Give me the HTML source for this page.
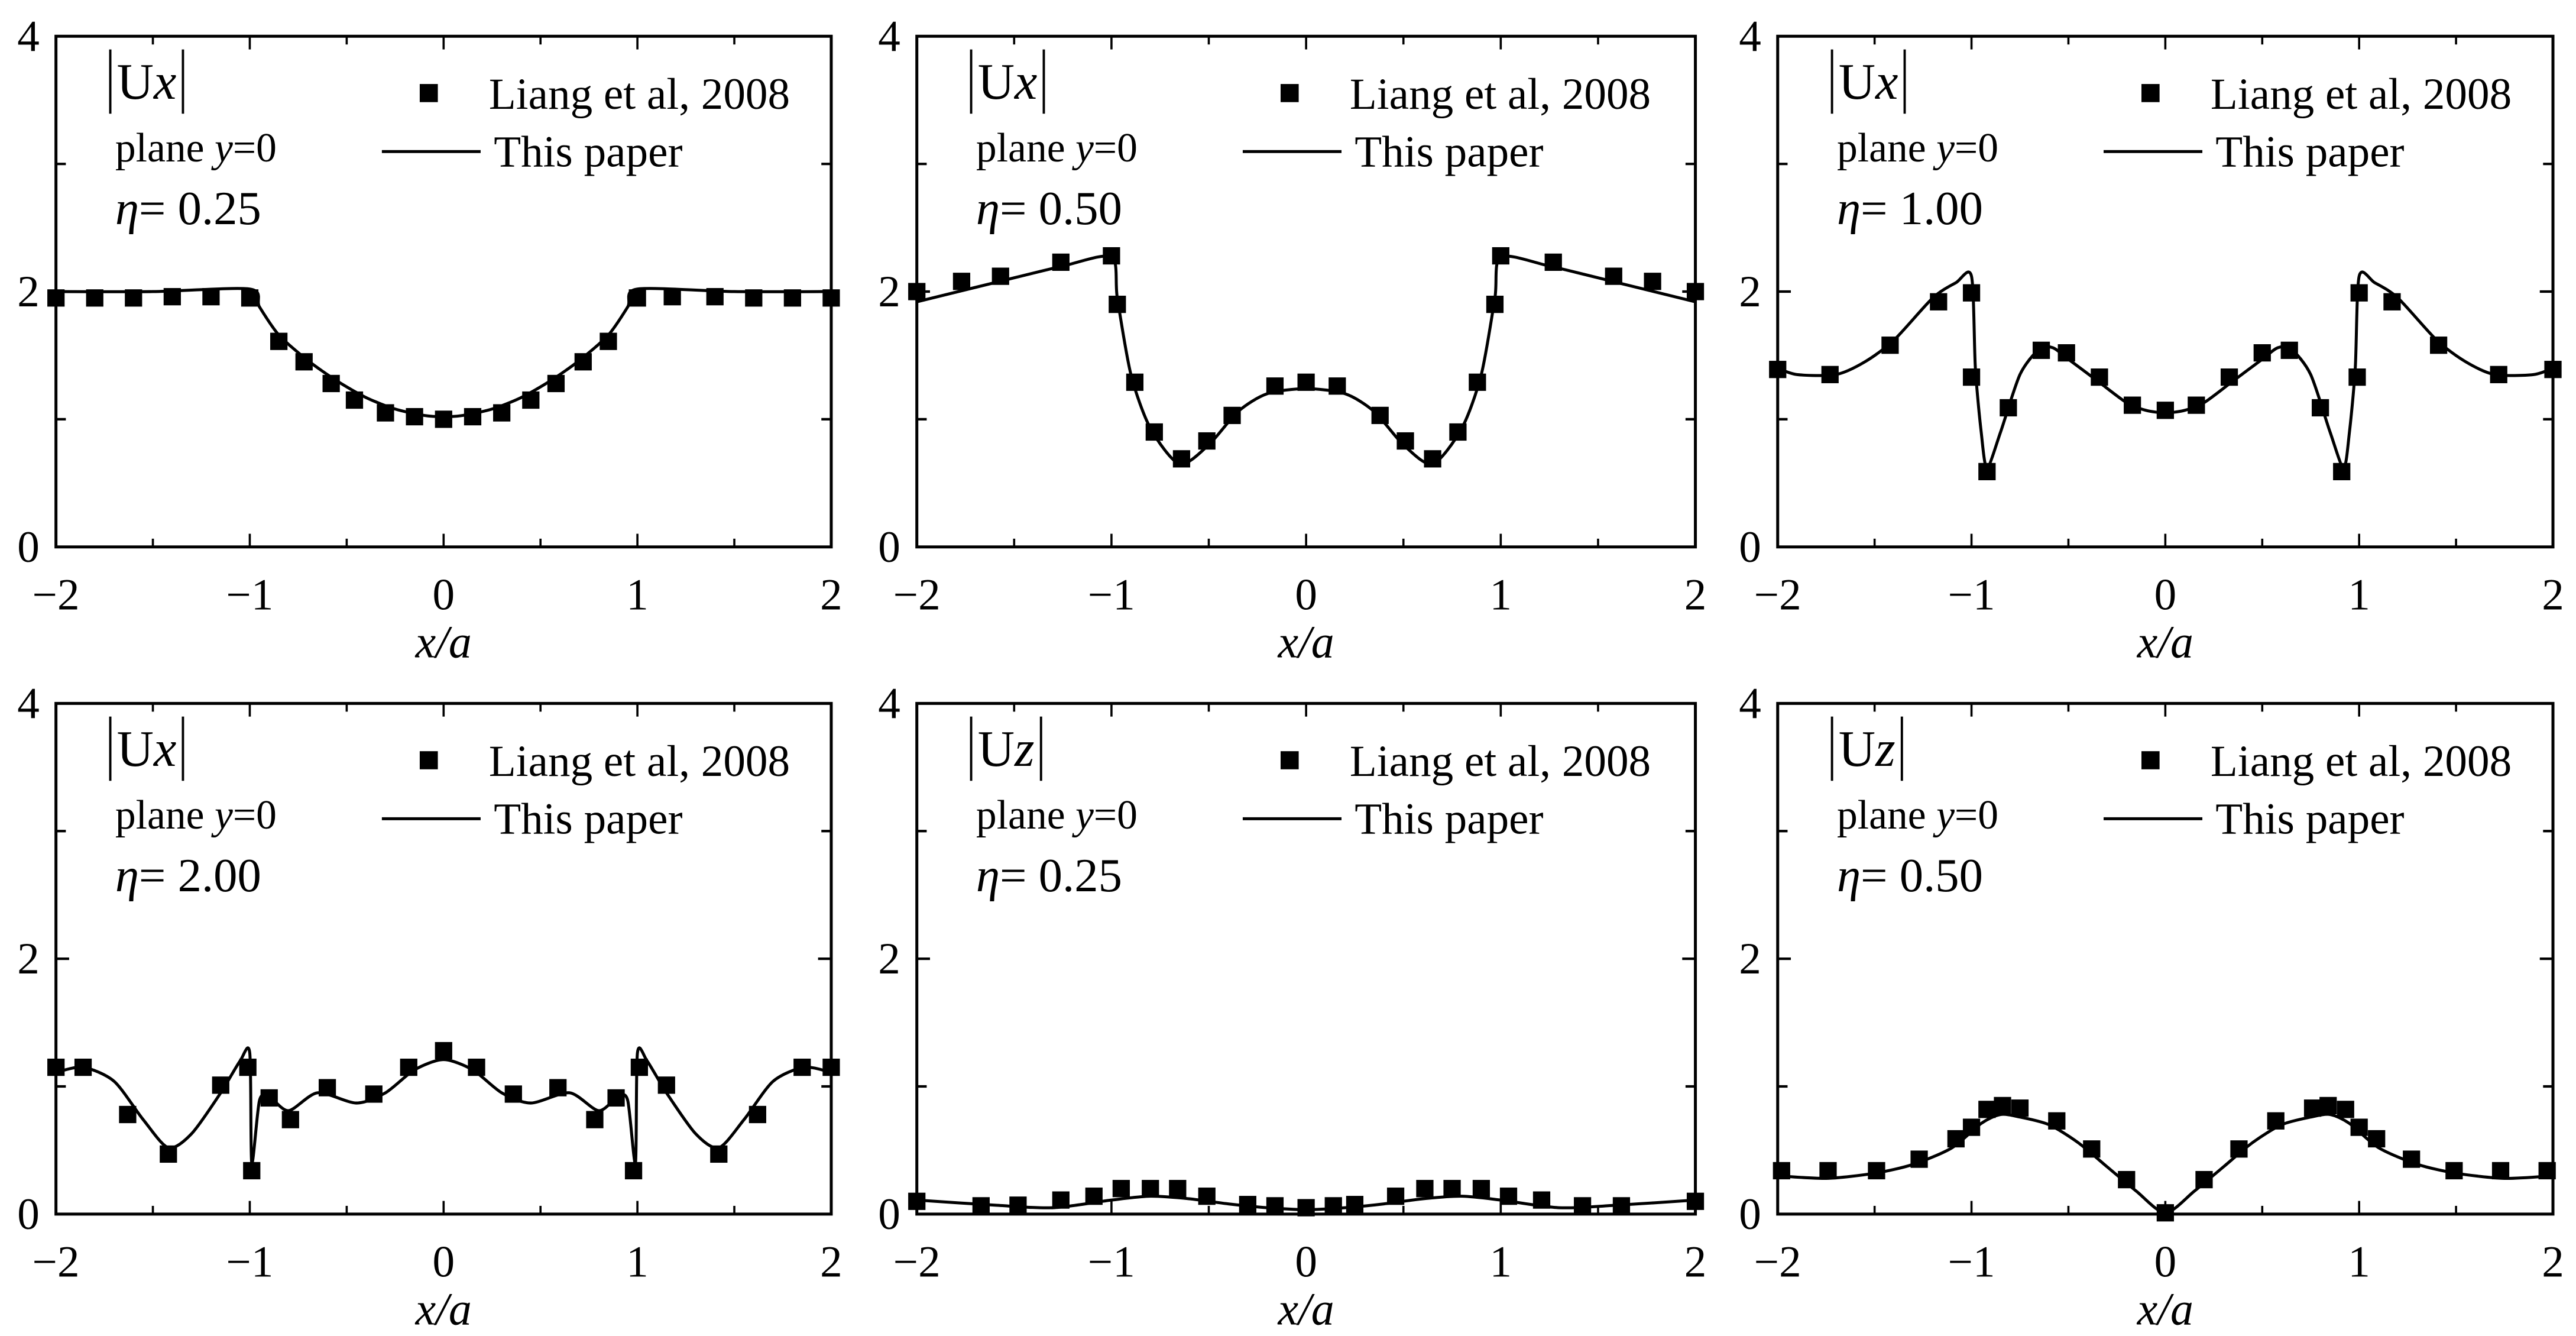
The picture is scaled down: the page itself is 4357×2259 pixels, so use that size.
<!DOCTYPE html>
<html><head><meta charset="utf-8"><style>
html,body{margin:0;padding:0;background:#fff;}
svg{display:block;}
text{font-family:"Liberation Serif",serif;fill:#000;}
</style></head>
<body>
<svg id="fig" width="4357" height="2259" viewBox="0 0 1565 811" preserveAspectRatio="none" xmlns="http://www.w3.org/2000/svg"></svg>
<script>
// ---- data ----
const xTicks = [-2,-1,0,1,2];
const yTicks = [0,2,4];
const panelQty = ["x","x","x","x","z","z"];
const panelEta = ["0.25","0.50","1.00","2.00","0.25","0.50"];

const p1x = [-2,-1.8,-1.6,-1.4,-1.2,-1.0,-0.85,-0.72,-0.58,-0.46,-0.3,-0.15,0,0.15,0.3,0.45,0.58,0.72,0.85,1.0,1.18,1.4,1.6,1.8,2];
const p1y = [1.95,1.95,1.95,1.96,1.96,1.95,1.61,1.45,1.28,1.15,1.05,1.02,1.0,1.02,1.05,1.15,1.28,1.45,1.61,1.95,1.96,1.96,1.95,1.95,1.95];
const l1x = [-2,-1.5,-1.0,-0.95,-0.85,-0.7,-0.55,-0.4,-0.25,-0.1,0,0.1,0.25,0.4,0.55,0.7,0.85,0.95,1.0,1.5,2];
const l1y = [2.0,2.0,2.02,1.88,1.66,1.46,1.3,1.17,1.08,1.03,1.02,1.03,1.08,1.17,1.3,1.46,1.66,1.88,2.02,2.0,2.0];

const p2x = [-2,-1.77,-1.57,-1.26,-1.0,-0.97,-0.88,-0.78,-0.64,-0.51,-0.38,-0.16,0,0.16,0.38,0.51,0.65,0.78,0.88,0.97,1.0,1.27,1.58,1.78,2];
const p2y = [2.0,2.08,2.12,2.23,2.28,1.90,1.29,0.90,0.69,0.83,1.03,1.26,1.29,1.26,1.03,0.83,0.69,0.90,1.29,1.90,2.28,2.23,2.12,2.08,2.0];
const l2x = [-2,-1.6,-1.25,-1.0,-0.97,-0.9,-0.8,-0.65,-0.5,-0.35,-0.2,0,0.2,0.35,0.5,0.65,0.8,0.9,0.97,1.0,1.25,1.6,2];
const l2y = [1.92,2.07,2.20,2.27,1.95,1.35,0.93,0.65,0.80,1.06,1.20,1.24,1.20,1.06,0.80,0.65,0.93,1.35,1.95,2.27,2.20,2.07,1.92];

const p3x = [-2,-1.73,-1.42,-1.17,-1.0,-1.0,-0.92,-0.81,-0.64,-0.51,-0.34,-0.17,0,0.16,0.33,0.5,0.64,0.8,0.91,0.99,1.0,1.17,1.41,1.72,2];
const p3y = [1.39,1.35,1.58,1.92,1.99,1.33,0.59,1.09,1.54,1.52,1.33,1.11,1.07,1.11,1.33,1.52,1.54,1.09,0.59,1.33,1.99,1.92,1.58,1.35,1.39];
const l3x = [-2,-1.9,-1.7,-1.55,-1.4,-1.2,-1.08,-1.0,-0.98,-0.95,-0.92,-0.85,-0.75,-0.65,-0.58,-0.5,-0.35,-0.2,-0.1,0,0.1,0.2,0.35,0.5,0.58,0.65,0.75,0.85,0.92,0.95,0.98,1.0,1.08,1.2,1.4,1.55,1.7,1.9,2];
const l3y = [1.40,1.35,1.35,1.45,1.62,1.95,2.07,2.12,1.4,0.9,0.62,0.9,1.35,1.55,1.56,1.47,1.3,1.13,1.07,1.05,1.07,1.13,1.3,1.47,1.56,1.55,1.35,0.9,0.62,0.9,1.4,2.12,2.07,1.95,1.62,1.45,1.35,1.35,1.40];

const p4x = [-2,-1.86,-1.63,-1.42,-1.15,-1.01,-0.99,-0.9,-0.79,-0.6,-0.36,-0.18,0,0.17,0.36,0.59,0.78,0.89,0.98,1.01,1.15,1.42,1.62,1.85,2];
const p4y = [1.15,1.15,0.78,0.47,1.01,1.15,0.34,0.91,0.74,0.99,0.94,1.15,1.28,1.15,0.94,0.99,0.74,0.91,0.34,1.15,1.01,0.47,0.78,1.15,1.15];
const l4x = [-2,-1.86,-1.7,-1.55,-1.42,-1.3,-1.15,-1.05,-1.0,-0.99,-0.95,-0.9,-0.8,-0.65,-0.45,-0.3,-0.15,0,0.15,0.3,0.45,0.65,0.8,0.9,0.95,0.99,1.0,1.05,1.15,1.3,1.42,1.55,1.7,1.86,2];
const l4y = [1.11,1.15,1.04,0.74,0.52,0.63,0.95,1.20,1.26,0.40,0.89,0.92,0.81,0.95,0.87,0.95,1.13,1.21,1.13,0.95,0.87,0.95,0.81,0.92,0.89,0.40,1.26,1.20,0.95,0.63,0.52,0.74,1.04,1.15,1.11];

const p5x = [-2,-1.67,-1.48,-1.26,-1.09,-0.95,-0.8,-0.66,-0.51,-0.3,-0.16,0,0.14,0.25,0.46,0.61,0.75,0.9,1.04,1.21,1.42,1.62,2];
const p5y = [0.1,0.065,0.07,0.11,0.14,0.2,0.2,0.2,0.14,0.075,0.065,0.05,0.065,0.075,0.14,0.2,0.2,0.2,0.14,0.11,0.065,0.065,0.1];
const l5x = [-2,-1.6,-1.3,-1.0,-0.8,-0.6,-0.4,-0.2,0,0.2,0.4,0.6,0.8,1.0,1.3,1.6,2];
const l5y = [0.11,0.07,0.05,0.11,0.14,0.12,0.08,0.05,0.035,0.05,0.08,0.12,0.14,0.11,0.05,0.07,0.11];

const p6x = [-1.98,-1.74,-1.49,-1.27,-1.08,-1.0,-0.92,-0.84,-0.75,-0.56,-0.38,-0.2,0,0.2,0.38,0.57,0.76,0.84,0.93,1.0,1.09,1.27,1.49,1.73,1.97];
const p6y = [0.34,0.34,0.34,0.43,0.59,0.68,0.82,0.85,0.83,0.73,0.51,0.27,0.01,0.27,0.51,0.73,0.83,0.85,0.82,0.68,0.59,0.43,0.34,0.34,0.34];
const l6x = [-2,-1.75,-1.5,-1.3,-1.1,-0.95,-0.85,-0.75,-0.6,-0.45,-0.3,-0.15,0,0.15,0.3,0.45,0.6,0.75,0.85,0.95,1.1,1.3,1.5,1.75,2];
const l6y = [0.30,0.28,0.32,0.39,0.52,0.71,0.78,0.76,0.70,0.56,0.37,0.18,0.01,0.18,0.37,0.56,0.70,0.76,0.78,0.71,0.52,0.39,0.32,0.28,0.30];

const ptsX = [p1x,p2x,p3x,p4x,p5x,p6x];
const ptsY = [p1y,p2y,p3y,p4y,p5y,p6y];
const lineX = [l1x,l2x,l3x,l4x,l5x,l6x];
const lineY = [l1y,l2y,l3y,l4y,l5y,l6y];

// ---- layout ----
const colL = [34,557,1080], colR = [505,1030,1551];
const rowT = [22,427], rowB = [332,737];
const NS = "http://www.w3.org/2000/svg";
const svg = document.getElementById('fig');
function mk(tag, attrs, parent){const e=document.createElementNS(NS,tag);for(const k in attrs)e.setAttribute(k,attrs[k]);(parent||svg).appendChild(e);return e;}

for(let p=0;p<6;p++){
  const L=colL[p%3], R=colR[p%3], T=rowT[Math.floor(p/3)], B=rowB[Math.floor(p/3)];
  const sx = v => L + (v+2)/4*(R-L);
  const sy = v => B - v/4*(B-T);
  const g = mk('g',{});
  
  
  for(let v=-2; v<=2.001; v+=0.5){
    const major = Math.abs(v-Math.round(v))<1e-6;
    const len = major?8:5;
    const t1=mk('line',{x1:sx(v),x2:sx(v),y1:B,y2:B-len,stroke:'#000','stroke-width':1.3},g);
    
    
    const t2=mk('line',{x1:sx(v),x2:sx(v),y1:T,y2:T+len,stroke:'#000','stroke-width':1.3},g);
    
    
  }
  for(let v=0; v<=4; v+=1){
    const len = (v%2===0)?8:6;
    const t1=mk('line',{x1:L,x2:L+len,y1:sy(v),y2:sy(v),stroke:'#000','stroke-width':1.5},g);
    
    
    const t2=mk('line',{x1:R,x2:R-len,y1:sy(v),y2:sy(v),stroke:'#000','stroke-width':1.5},g);
    
    
  }
  xTicks.forEach(v=>{
    const t=mk('text',{x:sx(v),y:B+38,'font-size':27,'text-anchor':'middle'},g);
    t.textContent = v<0 ? '\u2212'+Math.abs(v) : String(v);
    
    
  });
  yTicks.forEach(v=>{
    const t=mk('text',{x:L-10,y:sy(v)+9,'font-size':27,'text-anchor':'end'},g);
    t.textContent = String(v);
    
    
  });
  const xt=mk('text',{x:(L+R)/2,y:B+67,'font-size':28,'text-anchor':'middle','font-style':'italic'},g);
  xt.textContent='x/a';
  
  

  const lx=lineX[p], ly=lineY[p];
  const P=lx.map((v,i)=>[sx(v),sy(ly[i])]);
  let d='M'+P[0][0]+','+P[0][1];
  for(let i=0;i<P.length-1;i++){
    const p0=P[Math.max(0,i-1)],p1=P[i],p2=P[i+1],p3=P[Math.min(P.length-1,i+2)];
    const k=1/6*0.8;
    d+=' C'+(p1[0]+(p2[0]-p0[0])*k)+','+(p1[1]+(p2[1]-p0[1])*k)+' '+(p2[0]-(p3[0]-p1[0])*k)+','+(p2[1]-(p3[1]-p1[1])*k)+' '+p2[0]+','+p2[1];
  }
  const cp=mk('clipPath',{id:'clip'+p},g);
  mk('rect',{x:L,y:T,width:R-L,height:B-T},cp);
  const path=mk('path',{d:d,fill:'none',stroke:'#000','stroke-width':1.8,'clip-path':'url(#clip'+p+')'},g);
  
  
  const mxs=ptsX[p], mys=ptsY[p];
  mxs.forEach((v,i)=>{
    const s=10.5;
    const r=mk('rect',{x:sx(v)-s/2,y:sy(mys[i])-s/2,width:s,height:s,fill:'#000'},g);
    
    
  });
  const fr=mk('rect',{x:L,y:T,width:R-L,height:B-T,fill:'none',stroke:'#000','stroke-width':1.8},g);
  
  

  const lab=mk('text',{x:L+37,y:T+38,'font-size':31},g);
  lab.innerHTML='U<tspan font-style="italic">'+panelQty[p]+'</tspan>';
  
  
  let w=38;
  try{ w=lab.getComputedTextLength(); }catch(e){}
  const b1=mk('line',{x1:L+33,x2:L+33,y1:T+8,y2:T+47,stroke:'#000','stroke-width':1.4},g);
  
  
  const b2=mk('line',{x1:L+41+w,x2:L+41+w,y1:T+8,y2:T+47,stroke:'#000','stroke-width':1.4},g);
  
  
  const pl=mk('text',{x:L+36,y:T+76,'font-size':25},g);
  pl.innerHTML='plane <tspan font-style="italic">y</tspan>=0';
  
  
  const et=mk('text',{x:L+36,y:T+114,'font-size':29},g);
  et.innerHTML='<tspan font-style="italic">\u03B7</tspan>= '+panelEta[p];
  
  
  const lm=mk('rect',{x:L+221,y:T+29,width:11,height:11,fill:'#000'},g);
  
  
  const lt=mk('text',{x:L+263,y:T+44,'font-size':27},g);
  lt.textContent='Liang et al, 2008';
  
  
  const ll=mk('line',{x1:L+198,x2:L+258,y1:T+70,y2:T+70,stroke:'#000','stroke-width':1.8},g);
  
  
  const lt2=mk('text',{x:L+266,y:T+79,'font-size':27},g);
  lt2.textContent='This paper';
  
  
}
</script>
</body></html>
